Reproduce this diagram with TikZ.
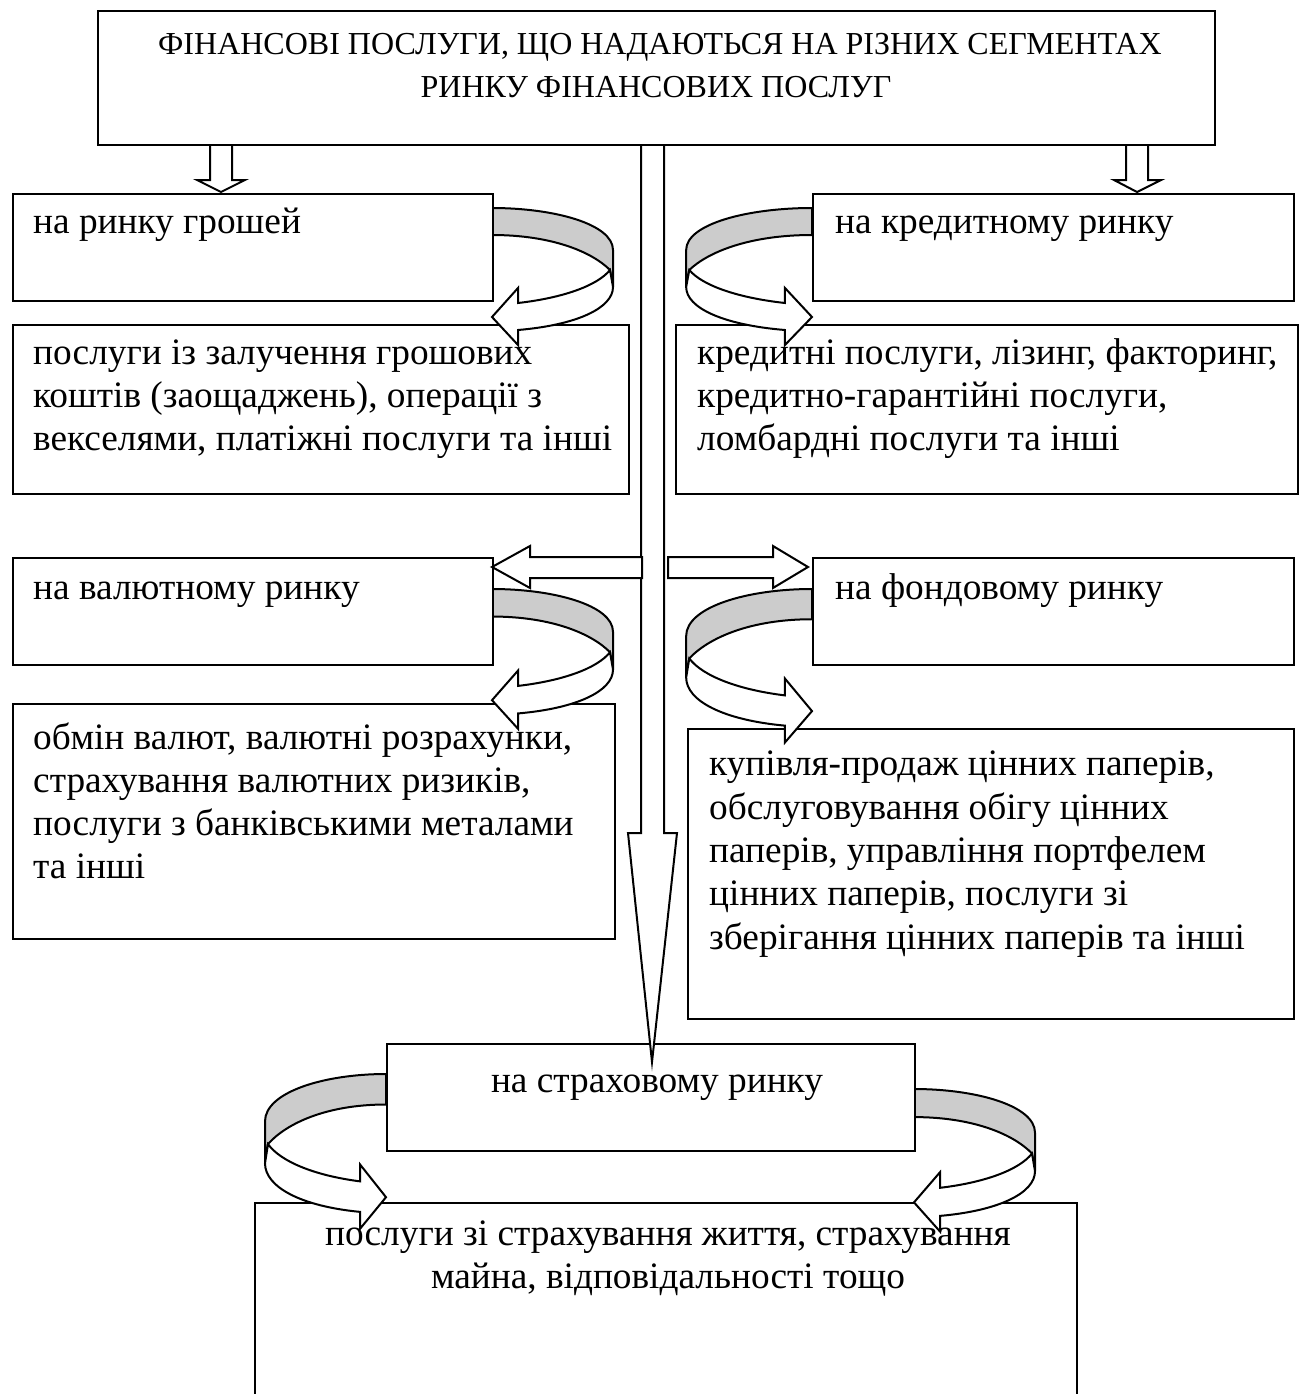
\documentclass[tikz,border=0pt]{standalone}
\usepackage{fontspec}
\setmainfont{Liberation Serif}
\tikzset{
  box/.style={draw, line width=2pt, fill=white, rectangle, inner sep=0pt, anchor=north west},
  txt/.style={inner sep=0pt, anchor=base west, font=\fontsize{37.3}{43}\selectfont},
  ctxt/.style={txt, anchor=base},
  ttxt/.style={inner sep=0pt, anchor=base, font=\fontsize{32}{43}\selectfont},
  blk/.style={draw, line width=2pt, fill=white, line join=miter},
  backband/.style={draw, line width=2pt, fill=black!20, line join=round},
  frontband/.style={draw, line width=2pt, fill=white, line join=miter},
}
\newcommand\curlarrow[4]{%
  \begin{scope}[shift={(#1,#2)}, xscale=#3, yscale=#4]
    \draw[backband] (0,0) .. controls (62,0) and (121,16) .. (121,42) -- (121,79) -- (118,62)
      .. controls (100,44) and (60,27) .. (0,27) -- cycle;
    \draw[frontband] (121,79) .. controls (121,100) and (85,117) .. (26,122) -- (26,137) -- (0,109)
      -- (26,80) -- (26,95) .. controls (70,90) and (105,78) .. (118,62) -- cycle;
  \end{scope}}
\begin{document}
\begin{tikzpicture}[x=1pt,y=-1pt]
\useasboundingbox (0,0) rectangle (1299,1394);
% lower boxes
\node[box, minimum width=616pt, minimum height=169pt] (b3) at (12,324) {};
\node[box, minimum width=622pt, minimum height=169pt] (b4) at (675,324) {};
\node[box, minimum width=602pt, minimum height=235pt] (b7) at (12,703) {};
\node[box, minimum width=606pt, minimum height=290pt] (b8) at (687,728) {};
\node[box, minimum width=822pt, minimum height=260pt] (b10) at (254,1202) {};
% curved arrows
\curlarrow{492}{208}{1}{1}
\curlarrow{812}{208}{-1.04}{1}
\curlarrow{492}{589}{1}{1.02}
\curlarrow{812}{589}{-1.04}{1.12}
\curlarrow{386}{1074}{-1}{1.13}
\curlarrow{914}{1089}{1}{1.04}
% upper boxes
\node[box, minimum width=480pt, minimum height=107pt] (b1) at (12,193) {};
\node[box, minimum width=481pt, minimum height=107pt] (b2) at (812,193) {};
\node[box, minimum width=480pt, minimum height=107pt] (b5) at (12,557) {};
\node[box, minimum width=481pt, minimum height=107pt] (b6) at (812,557) {};
\node[box, minimum width=528pt, minimum height=107pt] (b9) at (386,1043) {};
% block arrows
\draw[blk] (210,144) -- (210,180) -- (197,180) -- (221,192) -- (245,180) -- (232,180) -- (232,144);
\draw[blk] (1126,144) -- (1126,180) -- (1114,180) -- (1137,192) -- (1161,180) -- (1148,180) -- (1148,144);
\draw[blk] (641,144) -- (641,833) -- (628,833) -- (652,1062) -- (677,833) -- (664,833) -- (664,144);
\draw[blk] (642,557) -- (530,557) -- (530,546) -- (492,567) -- (530,588) -- (530,578) -- (642,578) -- cycle;
\draw[blk] (668,557) -- (773,557) -- (773,546) -- (808,567) -- (773,588) -- (773,578) -- (668,578) -- cycle;
% top box drawn last so its lower edge stays continuous
\node[box, minimum width=1117pt, minimum height=134pt] (top) at (97,10) {};
% texts
\node[ttxt] (t0a) at (660,55) {ФІНАНСОВІ ПОСЛУГИ, ЩО НАДАЮТЬСЯ НА РІЗНИХ СЕГМЕНТАХ};
\node[ttxt] (t0b) at (656,98) {РИНКУ ФІНАНСОВИХ ПОСЛУГ};
\node[txt] (t1) at (33,233) {на ринку грошей};
\node[txt] (t2) at (835,233) {на кредитному ринку};
\node[txt] (t3a) at (33,364) {послуги із залучення грошових};
\node[txt] (t3b) at (33,407) {коштів (заощаджень), операції з};
\node[txt] (t3c) at (33,450) {векселями, платіжні послуги та інші};
\node[txt] (t4a) at (697,364) {кредитні послуги, лізинг, факторинг,};
\node[txt] (t4b) at (697,407) {кредитно-гарантійні послуги,};
\node[txt] (t4c) at (697,450) {ломбардні послуги та інші};
\node[txt] (t5) at (33,599) {на валютному ринку};
\node[txt] (t6) at (835,599) {на фондовому ринку};
\node[txt] (t7a) at (33,749) {обмін валют, валютні розрахунки,};
\node[txt] (t7b) at (33,792) {страхування валютних ризиків,};
\node[txt] (t7c) at (33,835) {послуги з банківськими металами};
\node[txt] (t7d) at (33,878) {та інші};
\node[txt] (t8a) at (709,775) {купівля-продаж цінних паперів,};
\node[txt] (t8b) at (709,819) {обслуговування обігу цінних};
\node[txt] (t8c) at (709,862) {паперів, управління портфелем};
\node[txt] (t8d) at (709,905) {цінних паперів, послуги зі};
\node[txt] (t8e) at (709,949) {зберігання цінних паперів та інші};
\node[ctxt] (t9) at (657,1092) {на страховому ринку};
\node[ctxt] (t10a) at (668,1245) {послуги зі страхування життя, страхування};
\node[ctxt] (t10b) at (668,1288) {майна, відповідальності тощо};
\end{tikzpicture}
\end{document}
